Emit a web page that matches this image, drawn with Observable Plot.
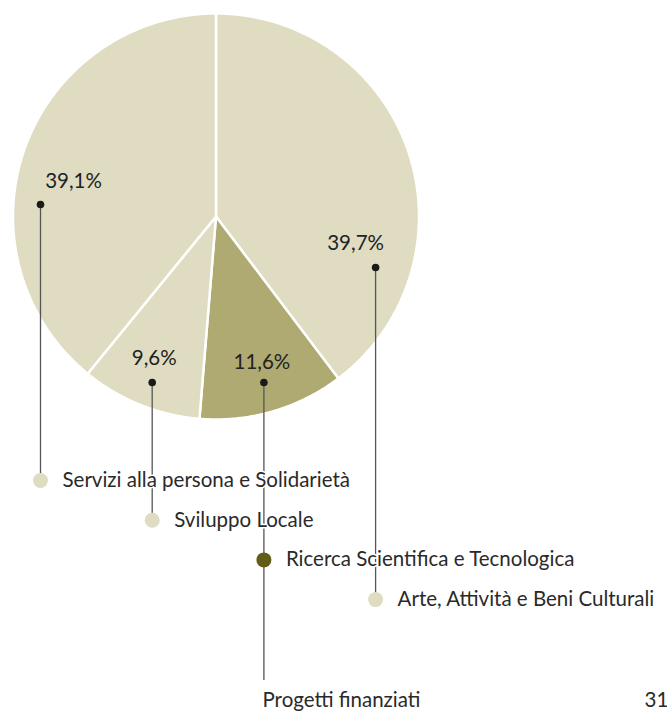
<!DOCTYPE html>
<html>
<head>
<meta charset="utf-8">
<script src="https://cdn.jsdelivr.net/npm/d3@7"></script>
<script src="https://cdn.jsdelivr.net/npm/@observablehq/plot@0.6"></script>
<style>
  html, body { margin: 0; padding: 0; background: #fff; }
  #chart svg { display: block; }
</style>
</head>
<body>
<div id="chart"></div>
<script>
// ---- data ----
const categories = ["Servizi alla persona e Solidarietà", "Sviluppo Locale", "Ricerca Scientifica e Tecnologica", "Arte, Attività e Beni Culturali"];
const shares = [39.1, 9.6, 11.6, 39.7];
const shareLabels = ["39,1%", "9,6%", "11,6%", "39,7%"];
const highlighted = ["Ricerca Scientifica e Tecnologica"];
const pieOrder = ["Arte, Attività e Beni Culturali", "Ricerca Scientifica e Tecnologica", "Sviluppo Locale", "Servizi alla persona e Solidarietà"];
const footerTitle = "Progetti finanziati";
const pageNumber = "31";

// ---- layout ----
const W = 667, H = 713;
const cx = 215.5, cy = 216, R = 203;
const light = "#dfdcc2", darkSlice = "#aeaa72", darkDot = "#615d17";
const legendX0 = 40, legendDX = 111.7, legendY0 = 480, legendDY = 39.7;
const anchorY = [204, 382, 382, 267];       // label dot heights
const labelOffset = [[33, -23], [2, -24], [-2, -20], [-20, -24]];
const fs = 20.5;

const total = d3.sum(shares);
// slices, clockwise from 12 o'clock
const slicePts = [];
let acc = 0;
for (const name of pieOrder) {
  const i = categories.indexOf(name);
  const a0 = acc / total * 2 * Math.PI;
  acc += shares[i];
  const a1 = acc / total * 2 * Math.PI;
  const fill = highlighted.includes(name) ? darkSlice : light;
  slicePts.push({name, fill, x: cx, y: cy});
  const n = Math.max(2, Math.ceil((a1 - a0) / (Math.PI / 360)));
  for (let k = 0; k <= n; k++) {
    const a = a0 + (a1 - a0) * k / n;
    slicePts.push({name, fill, x: cx + R * Math.sin(a), y: cy - R * Math.cos(a)});
  }
  slicePts.push({name, fill, x: cx, y: cy});
}

const items = categories.map((name, i) => ({
  name,
  label: shareLabels[i],
  lx: legendX0 + i * legendDX,
  ly: legendY0 + i * legendDY,
  ay: anchorY[i],
  tx: legendX0 + i * legendDX + labelOffset[i][0],
  ty: anchorY[i] + labelOffset[i][1],
  end: highlighted.includes(name) ? 680 : legendY0 + i * legendDY,
  dot: highlighted.includes(name) ? darkDot : light
}));

const font = "Lato, 'Open Sans', sans-serif";

const chart = Plot.plot({
  width: W,
  height: H,
  margin: 0,
  x: {domain: [0, W], range: [0, W], axis: null},
  y: {domain: [0, H], range: [0, H], axis: null},
  color: {type: "identity"},
  style: {fontFamily: font, background: "#fff"},
  marks: [
    Plot.line(slicePts, {x: "x", y: "y", z: "name", fill: "fill", stroke: "#fff", strokeWidth: 2.5, curve: "linear"}),
    Plot.ruleX(items, {x: "lx", y1: "ay", y2: "end", stroke: "#555", strokeWidth: 1.3}),
    Plot.dot(items, {x: "lx", y: "ay", r: 3.8, fill: "#1a1a1a", stroke: "none"}),
    Plot.text(items, {x: "tx", y: "ty", text: "label", fontSize: fs, fill: "#222", textAnchor: "middle"}),
    Plot.dot(items, {x: "lx", y: "ly", r: 7.5, fill: "dot", stroke: "none"}),
    Plot.text(items, {x: d => d.lx + 22, y: "ly", text: "name", fontSize: fs, fill: "#2a2a2a", textAnchor: "start", stroke: "#fff", strokeWidth: 3, paintOrder: "stroke"}),
    Plot.text([footerTitle], {x: () => 262, y: () => 700, text: d => d, fontSize: fs, fill: "#2a2a2a", textAnchor: "start"}),
    Plot.text([pageNumber], {x: () => 644, y: () => 700, text: d => d, fontSize: fs, fill: "#2a2a2a", textAnchor: "start"})
  ]
});
document.getElementById("chart").appendChild(chart);
</script>
</body>
</html>
